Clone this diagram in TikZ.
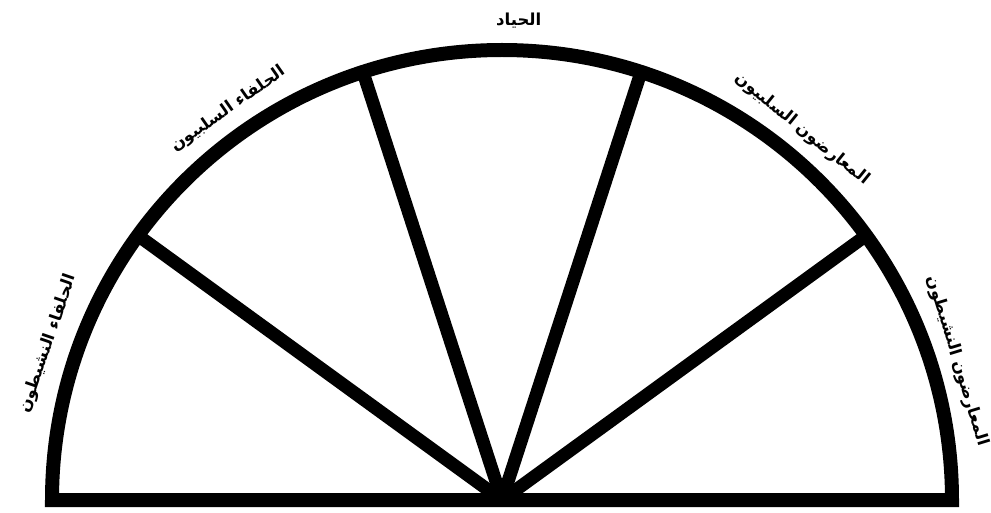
\documentclass[tikz,border=0pt]{standalone}
\usepackage{fontspec}
\newfontfamily\arabicfont[Script=Arabic]{DejaVu Sans}
\TeXXeTstate=1
\begin{document}
\begin{tikzpicture}[x=1pt,y=1pt,
  frame/.style={line width=14pt, line join=miter},
  spoke/.style={line width=13pt},
  lbl/.style={font=\arabicfont\bfseries\fontsize{16.5}{20}\selectfont, inner sep=0pt}]
\useasboundingbox[fill=white] (0,0) rectangle (991,512);
\coordinate (O) at (502,12);
\coordinate (L) at (52,12);
\draw[frame] (L) arc[start angle=180,end angle=0,radius=450] -- cycle;
\path (O) ++(36:450) coordinate (P1);
\path (O) ++(72:450) coordinate (P2);
\path (O) ++(108:450) coordinate (P3);
\path (O) ++(144:450) coordinate (P4);
\foreach \p in {P1,P2,P3,P4} \draw[spoke] (O) -- (\p);
\path (O) ++(88:480) node[lbl] (neutral) {\beginR الحياد\endR};
\path (O) ++(125:477) node[lbl, rotate=35] (passallies) {\beginR الحلفاء السلبيون\endR};
\path (O) ++(161:480) node[lbl, rotate=71] (actallies) {\beginR الحلفاء النشيطون\endR};
\path (O) ++(51:477) node[lbl, rotate=-39] (passopp) {\beginR المعارضون السلبيون\endR};
\path (O) ++(17:476) node[lbl, rotate=-73] (actopp) {\beginR المعارضون النشيطون\endR};
\end{tikzpicture}
\end{document}
